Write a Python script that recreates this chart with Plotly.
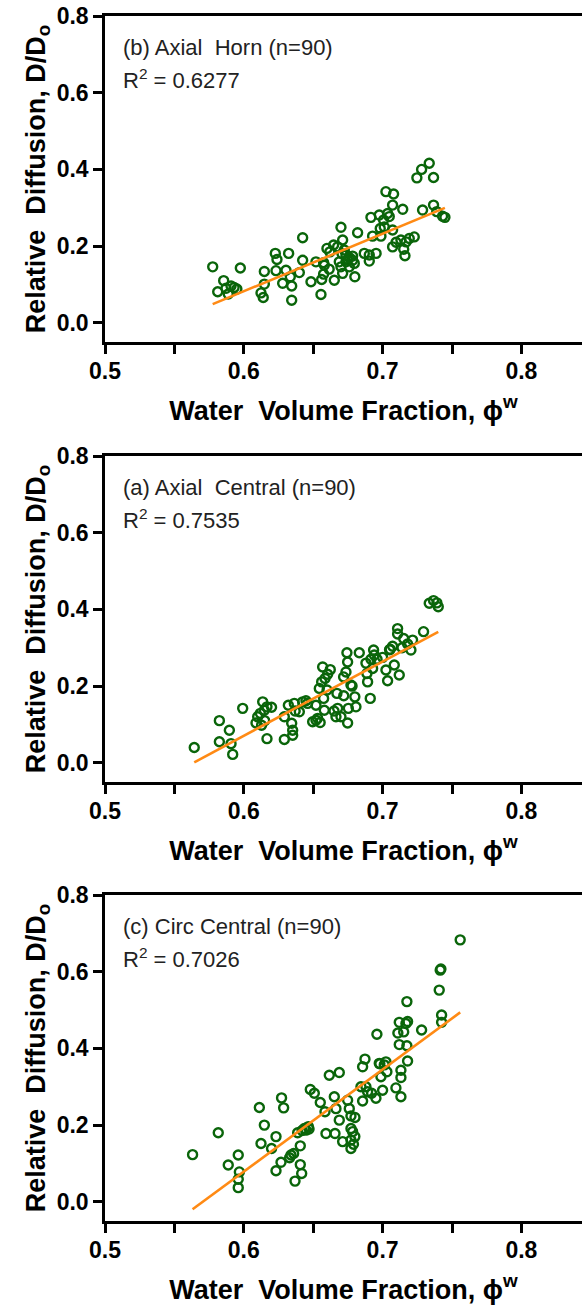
import plotly.graph_objects as go

# ---- data: water volume fraction vs relative diffusion D/Do ----
x_horn = [0.5776, 0.5812, 0.5855, 0.5872, 0.5888, 0.5908, 0.5930, 0.5950, 0.5975,
          0.6124, 0.6140, 0.6148, 0.6148,
          0.6227, 0.6239, 0.6232, 0.6280, 0.6304, 0.6323, 0.6335, 0.6345, 0.6345,
          0.6400, 0.6424, 0.6424,
          0.6484, 0.6520, 0.6556, 0.6561, 0.6575, 0.6575, 0.6580, 0.6599,
          0.6620, 0.6647, 0.6652, 0.6676, 0.6688, 0.6700, 0.6700, 0.6712, 0.6712, 0.6708,
          0.6736, 0.6736, 0.6748, 0.6760, 0.6784, 0.6784, 0.6796, 0.6800, 0.6820, 0.6724, 0.6760,
          0.6868, 0.6904, 0.6904, 0.6916, 0.6928, 0.6953, 0.6976, 0.6983, 0.6988, 0.7007, 0.7012,
          0.7024, 0.7036, 0.7048, 0.7072, 0.7079, 0.7072, 0.7072, 0.7097, 0.7145, 0.7132,
          0.7152, 0.7161, 0.7169, 0.7192, 0.7228,
          0.7247, 0.7281, 0.7336, 0.7288, 0.7367, 0.7367, 0.7390, 0.7432, 0.7449, 0.6615]
d_horn = [0.146, 0.081, 0.110, 0.090, 0.075, 0.096, 0.092, 0.088, 0.143,
          0.078, 0.066, 0.134, 0.101,
          0.181, 0.165, 0.136, 0.103, 0.137, 0.181, 0.120, 0.096, 0.059,
          0.131, 0.163, 0.222,
          0.107, 0.159, 0.074, 0.113, 0.157, 0.127, 0.150, 0.194,
          0.185, 0.203, 0.111, 0.198, 0.159, 0.249, 0.146, 0.216, 0.129, 0.180,
          0.177, 0.159, 0.165, 0.146, 0.174, 0.163, 0.155, 0.120, 0.235, 0.190, 0.170,
          0.181, 0.161, 0.177, 0.275, 0.226, 0.181, 0.281, 0.246, 0.226, 0.268, 0.250,
          0.342, 0.285, 0.277, 0.307, 0.336, 0.198, 0.242, 0.210, 0.296, 0.216,
          0.192, 0.175, 0.211, 0.220, 0.224,
          0.378, 0.400, 0.416, 0.294, 0.379, 0.307, 0.290, 0.278, 0.275, 0.140]

x_central = [0.5643, 0.5824, 0.5824, 0.5896, 0.5908, 0.5920, 0.5992,
             0.6088, 0.6100, 0.6119, 0.6136, 0.6148, 0.6167, 0.6128, 0.6167, 0.6150, 0.6200,
             0.6292, 0.6292, 0.6321, 0.6345, 0.6352, 0.6352, 0.6364, 0.6400, 0.6424, 0.6448, 0.6370,
             0.6496, 0.6520, 0.6532, 0.6520, 0.6544, 0.6561, 0.6568, 0.6575, 0.6580, 0.6585,
             0.6623, 0.6604, 0.6550, 0.6460, 0.6600,
             0.6664, 0.6671, 0.6676, 0.6700, 0.6719, 0.6736, 0.6743, 0.6748, 0.6748, 0.6753,
             0.6772, 0.6800, 0.6808, 0.6832, 0.6650, 0.6780, 0.6720,
             0.6887, 0.6892, 0.6911, 0.6916, 0.6928, 0.6935, 0.6940, 0.6880, 0.6960,
             0.7000, 0.7024, 0.7036, 0.7055, 0.7072, 0.7084, 0.7120, 0.7108, 0.7108, 0.7050,
             0.7140, 0.7152, 0.7216, 0.7204, 0.7180, 0.7295,
             0.7336, 0.7367, 0.7391, 0.7401]
d_central = [0.040, 0.110, 0.055, 0.085, 0.050, 0.022, 0.142,
             0.104, 0.120, 0.129, 0.159, 0.137, 0.146, 0.098, 0.063, 0.110, 0.145,
             0.061, 0.120, 0.150, 0.103, 0.085, 0.072, 0.155, 0.133, 0.159, 0.162, 0.135,
             0.107, 0.111, 0.116, 0.150, 0.194, 0.211, 0.250, 0.168, 0.137, 0.220,
             0.243, 0.231, 0.105, 0.155, 0.190,
             0.120, 0.181, 0.142, 0.120, 0.224, 0.237, 0.287, 0.263, 0.104, 0.142,
             0.203, 0.172, 0.146, 0.287, 0.135, 0.200, 0.175,
             0.233, 0.211, 0.168, 0.270, 0.246, 0.294, 0.281, 0.260, 0.270,
             0.275, 0.242, 0.214, 0.296, 0.304, 0.255, 0.229, 0.350, 0.336, 0.295,
             0.300, 0.324, 0.320, 0.294, 0.310, 0.342,
             0.416, 0.423, 0.417, 0.407]

x_circ = [0.5631, 0.5816, 0.5888, 0.5960, 0.5968, 0.5960, 0.5960,
          0.6112, 0.6124, 0.6148, 0.6200, 0.6232, 0.6232, 0.6272, 0.6287, 0.6268,
          0.6340, 0.6359, 0.6369, 0.6407, 0.6417, 0.6407, 0.6388, 0.6330,
          0.6436, 0.6448, 0.6465, 0.6479, 0.6508, 0.6551, 0.6585, 0.6592, 0.6470, 0.6420,
          0.6616, 0.6657, 0.6652, 0.6664, 0.6688, 0.6688, 0.6712,
          0.6748, 0.6760, 0.6772, 0.6772, 0.6784, 0.6772, 0.6772, 0.6801, 0.6800, 0.6790,
          0.6844, 0.6856, 0.6856, 0.6873, 0.6892, 0.6921, 0.6952, 0.6959, 0.6880,
          0.6976, 0.7000, 0.6988, 0.7012, 0.7031, 0.7024, 0.6980,
          0.7096, 0.7120, 0.7120, 0.7132, 0.7132, 0.7132, 0.7152, 0.7168, 0.7175, 0.7180, 0.7175,
          0.7110, 0.7180, 0.7281,
          0.7408, 0.7415, 0.7420, 0.7425, 0.7425, 0.7559]
d_circ = [0.123, 0.180, 0.096, 0.122, 0.078, 0.059, 0.037,
          0.246, 0.152, 0.200, 0.139, 0.170, 0.081, 0.271, 0.245, 0.103,
          0.122, 0.126, 0.054, 0.097, 0.074, 0.146, 0.180, 0.115,
          0.191, 0.187, 0.196, 0.293, 0.283, 0.259, 0.235, 0.178, 0.190, 0.186,
          0.330, 0.178, 0.274, 0.243, 0.337, 0.213, 0.157,
          0.265, 0.243, 0.224, 0.191, 0.183, 0.161, 0.139, 0.220, 0.170, 0.150,
          0.300, 0.263, 0.352, 0.372, 0.287, 0.283, 0.270, 0.437, 0.300,
          0.361, 0.291, 0.326, 0.357, 0.339, 0.365, 0.360,
          0.297, 0.410, 0.468, 0.274, 0.324, 0.343, 0.443, 0.465, 0.522, 0.367, 0.407,
          0.440, 0.470, 0.448,
          0.552, 0.604, 0.607, 0.487, 0.468, 0.683]

# linear fits (slope, intercept) and reported R^2
fit_horn = (1.500, -0.8177)
fit_central = (1.935, -1.0905)
fit_circ = (2.661, -1.5176)

panels = [
    ("(b) Axial\u00a0\u00a0Horn (n=90)", "0.6277", x_horn, d_horn, fit_horn),
    ("(a) Axial\u00a0\u00a0Central (n=90)", "0.7535", x_central, d_central, fit_central),
    ("(c) Circ Central (n=90)", "0.7026", x_circ, d_circ, fit_circ),
]

# ---- layout geometry ----
W, H = 582, 1310
M_L, M_R, M_T, M_B = 105, 0, 16, 89
plot_h = H - M_T - M_B
panel_px = 326
panel_tops = [16, 456, 895]          # pixel top of each panel
domains = []
for top in panel_tops:
    y1 = (H - M_B - top) / plot_h
    y0 = (H - M_B - top - panel_px) / plot_h
    domains.append([max(0.0, y0), min(1.0, y1)])

GREEN = "#0a650a"
ORANGE = "#ff8a14"
FONT = "Liberation Sans, Arial, sans-serif"

fig = go.Figure()

x_range = [0.5, 0.5 + 0.1 * (W - M_L - M_R) / 138.8]

for i, (label, r2, xs, ds, (m, b)) in enumerate(panels):
    k = "" if i == 0 else str(i + 1)
    xa, ya = "x" + k, "y" + k
    fig.add_trace(go.Scatter(
        x=xs, y=ds, mode="markers", xaxis=xa, yaxis=ya, showlegend=False,
        marker=dict(symbol="circle-open", size=9, color=GREEN,
                    line=dict(width=2.4, color=GREEN)),
    ))
    x0, x1 = min(xs), max(xs)
    fig.add_trace(go.Scatter(
        x=[x0, x1], y=[m * x0 + b, m * x1 + b], mode="lines",
        xaxis=xa, yaxis=ya, showlegend=False,
        line=dict(color=ORANGE, width=2.6),
    ))

    axis_common = dict(
        showline=True, linecolor="black", linewidth=2.5,
        ticks="outside", ticklen=9, tickwidth=2.5, tickcolor="black",
        showgrid=False, zeroline=False,
        tickfont=dict(family=FONT, size=23, color="black", weight="bold"),
    )
    fig.layout["xaxis" + k] = dict(
        axis_common, anchor=ya, domain=[0, 1], range=x_range,
        tick0=0.5, dtick=0.1, tickformat=".1f", mirror=True,
        ticklabelstandoff=-2,
        minor=dict(dtick=0.05, tick0=0.5, ticks="outside", ticklen=9,
                   tickwidth=2.5, tickcolor="black", showgrid=False),
        title=dict(text="Water\u00a0\u00a0Volume Fraction, \u03d5<sup>w</sup>",
                   font=dict(family=FONT, size=27, color="black", weight="bold"),
                   standoff=18),
    )
    fig.layout["yaxis" + k] = dict(
        axis_common, anchor=xa, domain=domains[i], range=[-0.05, 0.8],
        tick0=0, dtick=0.2, tickformat=".1f", mirror=False,
        title=dict(text="Relative\u00a0\u00a0Diffusion, D/D<sub>o</sub>",
                   font=dict(family=FONT, size=27, color="black", weight="bold"),
                   standoff=4),
    )

    fig.add_annotation(
        text=label, xref=xa + " domain", yref=ya + " domain",
        x=0.033, y=1 - 31 / panel_px, xanchor="left", yanchor="middle",
        showarrow=False, font=dict(family=FONT, size=22, color="#222222"),
    )
    fig.add_annotation(
        text="R<sup>2</sup> = " + r2, xref=xa + " domain", yref=ya + " domain",
        x=0.033, y=1 - 63 / panel_px, xanchor="left", yanchor="middle",
        showarrow=False, font=dict(family=FONT, size=22, color="#222222"),
    )

fig.update_layout(
    width=W, height=H,
    margin=dict(l=M_L, r=M_R, t=M_T, b=M_B, pad=0),
    paper_bgcolor="white", plot_bgcolor="white",
)

fig.write_html("out.html")
